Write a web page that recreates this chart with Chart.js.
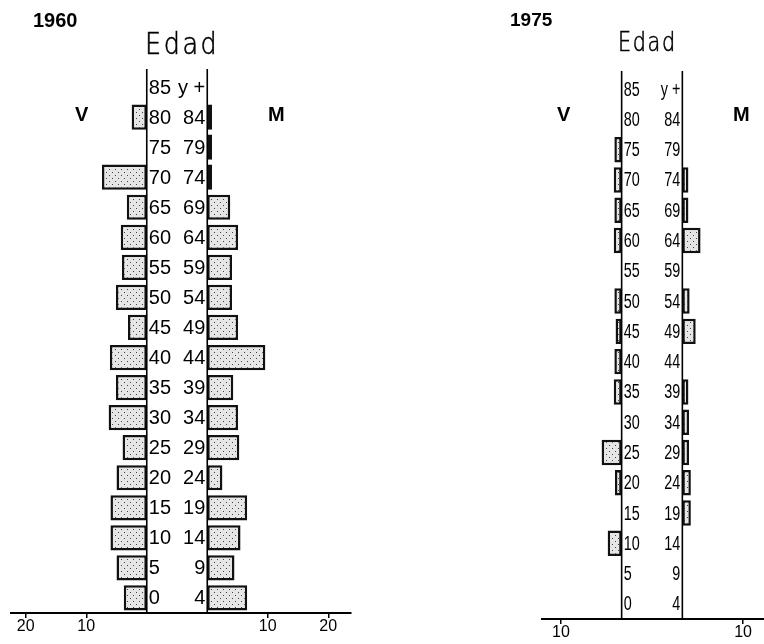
<!DOCTYPE html>
<html lang="es">
<head>
<meta charset="UTF-8">
<title>Pirámides de edad 1960 / 1975</title>
<style>
  body { margin: 0; background: #fff; }
  #wrap { position: relative; width: 764px; height: 644px; overflow: hidden; }
  .panel { position: absolute; top: 0; }
  .txt { position: absolute; line-height: 1; color: #000; white-space: nowrap; }
  .bold { font-family: "Liberation Sans", Arial, sans-serif; font-weight: bold; }
  .edad { font-family: "DejaVu Sans", sans-serif; font-weight: 200; transform-origin: left top; -webkit-text-stroke: 0.6px #000; }
</style>
</head>
<body>
<div id="wrap">
  <div class="panel" style="left:0"><canvas id="c1960" width="380" height="644"></canvas></div>
  <div class="panel" style="left:380px"><canvas id="c1975" width="384" height="644"></canvas></div>

  <div class="txt bold" style="left:33px;top:10px;font-size:20px">1960</div>
  <div class="txt edad" style="left:145px;top:29px;font-size:30px;letter-spacing:3px;transform:scaleX(0.85)">Edad</div>
  <div class="txt bold" style="left:75px;top:104px;font-size:20px">V</div>
  <div class="txt bold" style="left:268px;top:104px;font-size:20px">M</div>

  <div class="txt bold" style="left:510px;top:10px;font-size:19px">1975</div>
  <div class="txt edad" style="left:618px;top:29px;font-size:26px;letter-spacing:2px;transform:scaleX(0.8)">Edad</div>
  <div class="txt bold" style="left:557px;top:104px;font-size:20px">V</div>
  <div class="txt bold" style="left:733px;top:104px;font-size:20px">M</div>
</div>

<script src="https://cdn.jsdelivr.net/npm/chart.js"></script>
<script>
// grupos de edad, de abajo (0-4) hacia arriba (85 y +)
const ageFrom = ['0', '5', '10', '15', '20', '25', '30', '35', '40', '45', '50', '55', '60', '65', '70', '75', '80', '85'];
const ageTo = ['4', '9', '14', '19', '24', '29', '34', '39', '44', '49', '54', '59', '64', '69', '74', '79', '84', 'y +'];

// V = varones, M = mujeres
const men1960 = [3.8, 5.0, 6.0, 6.0, 5.0, 4.0, 6.3, 5.1, 6.1, 3.1, 5.1, 4.1, 4.3, 3.3, 7.4, 0, 2.5, 0];
const women1960 = [6.6, 4.5, 5.5, 6.6, 2.5, 5.3, 5.1, 4.3, 9.6, 5.1, 4.1, 4.1, 5.1, 3.8, 0.8, 0.8, 0.8, 0];
const men1975 = [0, 0, 2.3, 0, 1.1, 3.3, 0, 1.3, 1.2, 1.0, 1.2, 0, 1.3, 1.2, 1.3, 1.2, 0, 0];
const women1975 = [0, 0, 0, 1.4, 1.4, 1.1, 1.1, 1.0, 0, 2.2, 1.2, 0, 3.0, 1.0, 1.0, 0, 0, 0];

const ticks1960 = [10, 20];
const ticks1975 = [10];

const HALF = 5; // media anchura de la columna central de edades

function dotPattern() {
  const c = document.createElement('canvas');
  c.width = 6; c.height = 6;
  const g = c.getContext('2d');
  g.fillStyle = '#e6e6e6';
  g.fillRect(0, 0, 6, 6);
  g.fillStyle = '#444';
  g.fillRect(1, 1, 1, 1);
  g.fillRect(4, 4, 1, 1);
  return g.createPattern(c, 'repeat');
}

// columna central: dos líneas verticales y las etiquetas de edad
const columnPlugin = {
  id: 'column',
  afterDatasetsDraw(chart, args, opts) {
    const { ctx, chartArea, scales: { x, y } } = chart;
    const xl = x.getPixelForValue(-HALF);
    const xr = x.getPixelForValue(HALF);
    ctx.save();
    ctx.strokeStyle = '#000';
    ctx.lineWidth = 1.6;
    ctx.beginPath();
    ctx.moveTo(xl, chartArea.top - 3); ctx.lineTo(xl, chartArea.bottom);
    ctx.moveTo(xr, chartArea.top - 3); ctx.lineTo(xr, chartArea.bottom);
    ctx.stroke();

    ctx.fillStyle = '#000';
    ctx.font = '20px "Liberation Sans", Arial, sans-serif';
    ctx.textBaseline = 'middle';
    const sq = opts.squeeze || 1;
    const put = (t, px, py, align) => {
      ctx.save();
      ctx.translate(px, py);
      ctx.scale(sq, 1);
      ctx.textAlign = align;
      ctx.fillText(t, 0, 0);
      ctx.restore();
    };
    ageFrom.forEach((a, i) => {
      const py = y.getPixelForValue(i) + 1;
      put(a, xl + 2, py, 'left');
      put(ageTo[i], xr - 2, py, 'right');
    });
    ctx.restore();
  }
};

function pyramid(id, men, women, tickVals, cfg) {
  const fill = dotPattern();
  const shown = [];
  tickVals.forEach(t => { shown.push(-HALF - t); shown.push(HALF + t); });
  shown.sort((a, b) => a - b);

  const barStyle = {
    backgroundColor: fill,
    borderColor: '#111',
    borderWidth: 2.5,
    borderSkipped: false,
    grouped: false,
    barPercentage: 1,
    categoryPercentage: 0.84
  };

  return new Chart(document.getElementById(id), {
    type: 'bar',
    data: {
      labels: ageFrom,
      datasets: [Object.assign({
        label: 'V',
        data: men.map(v => v > 0 ? [-HALF - v, -HALF] : null)
      }, barStyle), Object.assign({
        label: 'M',
        data: women.map(v => v > 0 ? [HALF, HALF + v] : null)
      }, barStyle)]
    },
    options: {
      indexAxis: 'y',
      responsive: false,
      animation: false,
      events: [],
      layout: { padding: cfg.padding },
      scales: {
        y: {
          type: 'category',
          reverse: true,
          display: false
        },
        x: {
          type: 'linear',
          min: cfg.min,
          max: cfg.max,
          afterBuildTicks: axis => { axis.ticks = shown.map(v => ({ value: v })); },
          ticks: {
            autoSkip: false,
            maxRotation: 0,
            color: '#000',
            padding: 1,
            font: { family: '"Liberation Sans", Arial, sans-serif', size: 16, lineHeight: 1 },
            callback: v => String(Math.abs(v) - HALF)
          },
          grid: {
            drawOnChartArea: false,
            tickLength: 5,
            color: '#000',
            lineWidth: 1.5
          },
          border: { color: '#000', width: 2 }
        }
      },
      plugins: {
        legend: { display: false },
        tooltip: { enabled: false },
        title: { display: false },
        colors: { enabled: false },
        column: { squeeze: cfg.squeeze }
      }
    },
    plugins: [columnPlugin]
  });
}

pyramid('c1960', men1960, women1960, ticks1960, {
  min: -27.44, max: 28.76,
  padding: { left: 11, right: 29, top: 72, bottom: 8 },
  squeeze: 1
});

pyramid('c1975', men1975, women1975, ticks1975, {
  min: -18.12, max: 18.45,
  padding: { left: 162, right: 0, top: 74, bottom: 2 },
  squeeze: 0.72
});
</script>
</body>
</html>
